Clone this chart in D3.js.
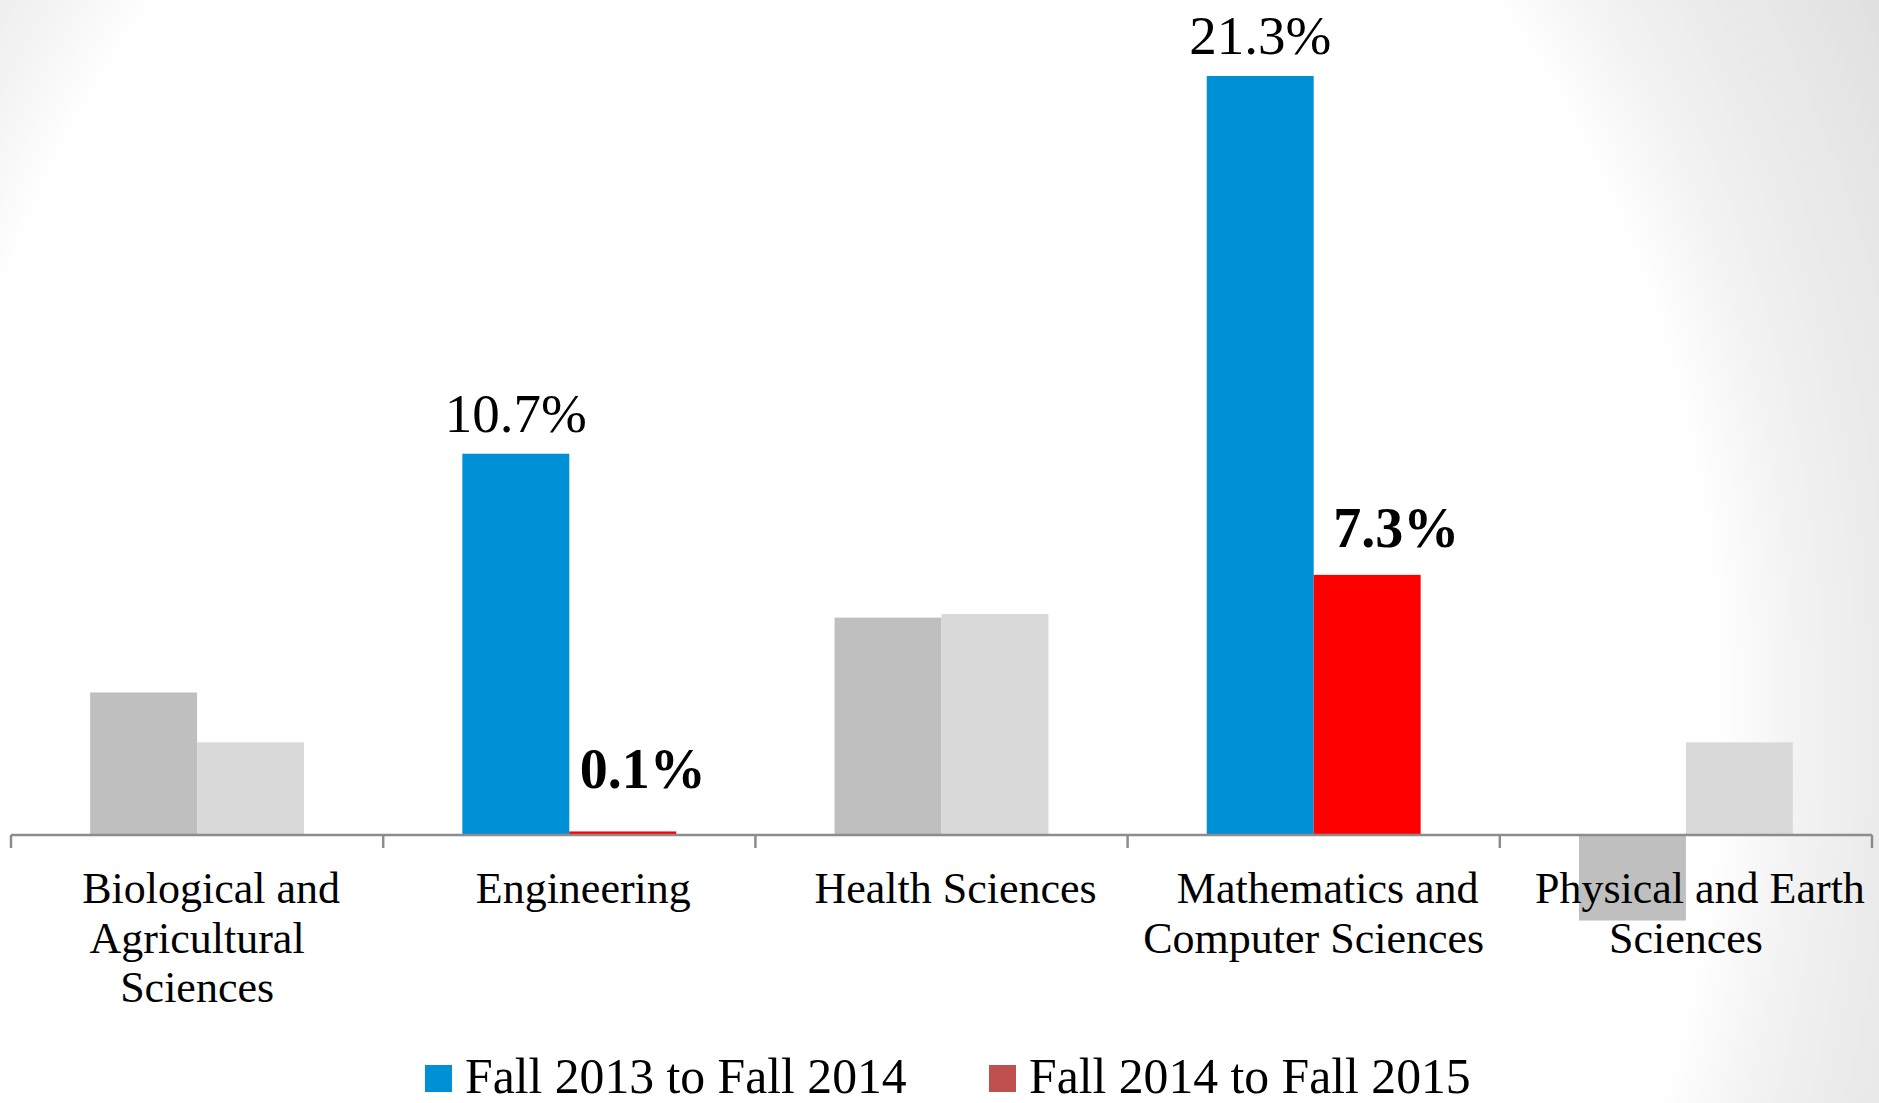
<!DOCTYPE html>
<html>
<head>
<meta charset="utf-8">
<script src="https://cdn.jsdelivr.net/npm/d3@7"></script>
<style>
  html, body { margin: 0; padding: 0; background: #fff; overflow: hidden; }
  svg { display: block; }
</style>
</head>
<body>
<div id="chart"></div>
<script>
// Data
const categories = [
  "Biological and Agricultural Sciences",
  "Engineering",
  "Health Sciences",
  "Mathematics and Computer Sciences",
  "Physical and Earth Sciences"
];
const categoryLines = [
  ["Biological and", "Agricultural", "Sciences"],
  ["Engineering"],
  ["Health Sciences"],
  ["Mathematics and", "Computer Sciences"],
  ["Physical and Earth", "Sciences"]
];
const seriesNames = ["Fall 2013 to Fall 2014", "Fall 2014 to Fall 2015"];
const fall2013to2014 = [4.0, 10.7, 6.1, 21.3, -2.4];
const fall2014to2015 = [2.6, 0.1, 6.2, 7.3, 2.6];
const highlighted = ["Engineering", "Mathematics and Computer Sciences"];

// Dimensions
const width = 1879;
const height = 1103;
const baseY = 835;

const svg = d3
  .select("#chart")
  .append("svg")
  .attr("width", width)
  .attr("height", height);

// Background vignette (elliptical, taller than wide)
const defs = svg.append("defs");
const grad = defs
  .append("radialGradient")
  .attr("id", "bg")
  .attr("gradientUnits", "userSpaceOnUse")
  .attr("cx", 825)
  .attr("cy", 720)
  .attr("r", 1246)
  .attr("gradientTransform", "translate(825,720) scale(1,1.217) translate(-825,-720)");
grad.append("stop").attr("offset", 0).attr("stop-color", "#ffffff");
grad.append("stop").attr("offset", 0.715).attr("stop-color", "#ffffff");
grad.append("stop").attr("offset", 0.78).attr("stop-color", "#f3f3f3");
grad.append("stop").attr("offset", 0.85).attr("stop-color", "#ebebeb");
grad.append("stop").attr("offset", 0.92).attr("stop-color", "#e5e5e5");
grad.append("stop").attr("offset", 1).attr("stop-color", "#dddddd");

svg.append("rect").attr("width", width).attr("height", height).attr("fill", "url(#bg)");

// Scales
const x0 = d3.scaleBand().domain(categories).range([11, 1872]).padding(0);
const x1 = d3
  .scaleBand()
  .domain(seriesNames)
  .range([0, x0.bandwidth()])
  .paddingInner(0)
  .paddingOuter(0.74);
const y = d3.scaleLinear().domain([0, 21.3]).range([baseY, 76]);

const blue = "#0090d6";
const red = "#ff0000";
const colorOn = d3.scaleOrdinal().domain(seriesNames).range([blue, red]);
const colorOff = d3.scaleOrdinal().domain(seriesNames).range(["#bfbfbf", "#d9d9d9"]);
const legendColor = d3.scaleOrdinal().domain(seriesNames).range([blue, "#c0504d"]);

// Rows for bars
const rows = [];
categories.forEach((c, i) => {
  rows.push({ cat: c, series: seriesNames[0], value: fall2013to2014[i] });
  rows.push({ cat: c, series: seriesNames[1], value: fall2014to2015[i] });
});

// Bars
svg
  .append("g")
  .selectAll("rect")
  .data(rows)
  .enter()
  .append("rect")
  .attr("x", (d) => x0(d.cat) + x1(d.series))
  .attr("width", x1.bandwidth())
  .attr("y", (d) => y(Math.max(0, d.value)))
  .attr("height", (d) => Math.abs(y(d.value) - y(0)))
  .attr("fill", (d) =>
    highlighted.includes(d.cat) ? colorOn(d.series) : colorOff(d.series)
  );

// Axis line and ticks at category boundaries
const axis = svg.append("g").attr("stroke", "#8c8c8c").attr("stroke-width", 2.5);
axis
  .append("line")
  .attr("x1", x0.range()[0])
  .attr("x2", x0.range()[1])
  .attr("y1", y(0))
  .attr("y2", y(0));
const tickXs = categories.map((c) => x0(c)).concat([x0.range()[1]]);
axis
  .selectAll("line.tick")
  .data(tickXs)
  .enter()
  .append("line")
  .attr("class", "tick")
  .attr("x1", (d) => d)
  .attr("x2", (d) => d)
  .attr("y1", y(0))
  .attr("y2", y(0) + 13);

// Category labels
const labels = svg
  .append("g")
  .attr("font-family", "'Liberation Serif', serif")
  .attr("font-size", 44)
  .attr("fill", "#000")
  .attr("text-anchor", "middle");
categories.forEach((c, i) => {
  const cx = x0(c) + x0.bandwidth() / 2;
  const t = labels.append("text");
  categoryLines[i].forEach((line, j) => {
    t.append("tspan")
      .attr("x", cx + (j === 0 ? 14 : 0))
      .attr("y", 903 + j * 49.5)
      .text(line);
  });
});

// Value labels on highlighted bars
const labelNudge = {
  "Engineering|Fall 2014 to Fall 2015": [20, -21],
  "Mathematics and Computer Sciences|Fall 2014 to Fall 2015": [29, -6]
};
svg
  .append("g")
  .selectAll("text")
  .data(rows.filter((d) => highlighted.includes(d.cat)))
  .enter()
  .append("text")
  .attr("font-family", "'Liberation Serif', serif")
  .attr("font-size", (d) => (d.series === seriesNames[1] ? 56 : 55))
  .attr("font-weight", (d) => (d.series === seriesNames[1] ? "bold" : "normal"))
  .attr("text-anchor", "middle")
  .attr("x", (d) => {
    const n = labelNudge[d.cat + "|" + d.series] || [0, 0];
    return x0(d.cat) + x1(d.series) + x1.bandwidth() / 2 + n[0];
  })
  .attr("y", (d) => {
    const n = labelNudge[d.cat + "|" + d.series] || [0, 0];
    return y(d.value) - 22 + n[1];
  })
  .text((d) => d.value.toFixed(1) + "%");

// Legend
const legendX = [425, 989];
const legend = svg
  .append("g")
  .selectAll("g")
  .data(seriesNames)
  .enter()
  .append("g")
  .attr("transform", (d, i) => `translate(${legendX[i]}, 1065)`);
legend
  .append("rect")
  .attr("width", 27)
  .attr("height", 27)
  .attr("fill", (d) => legendColor(d));
legend
  .append("text")
  .attr("x", 40)
  .attr("y", 28)
  .attr("font-family", "'Liberation Serif', serif")
  .attr("font-size", 49.7)
  .attr("fill", "#000")
  .text((d) => d);
</script>
</body>
</html>
